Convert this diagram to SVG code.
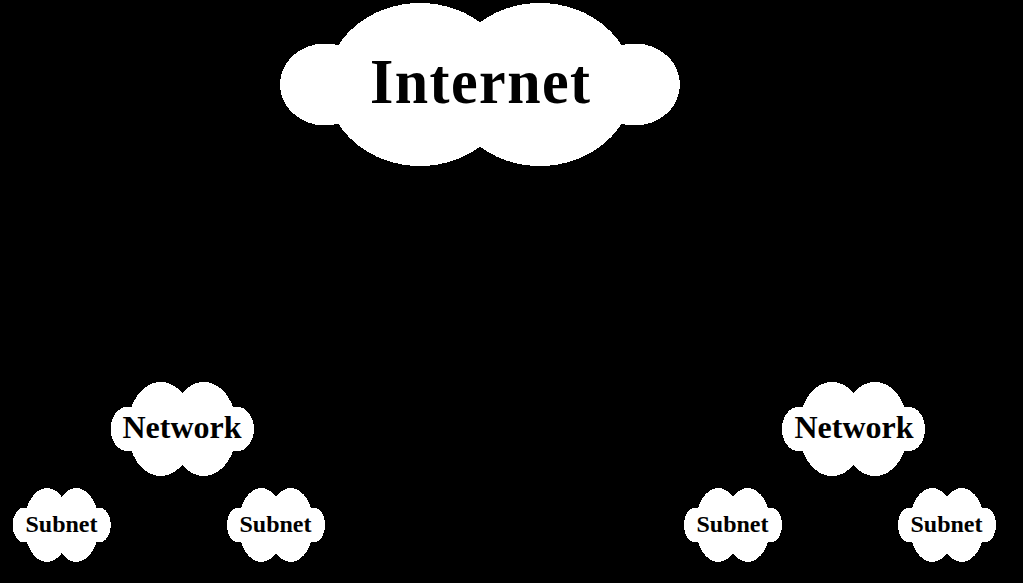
<svg xmlns="http://www.w3.org/2000/svg" width="1023" height="583" viewBox="0 0 1023 583">
<style>
.c{fill:#fff;shape-rendering:crispEdges}
text{font-family:"Liberation Serif","Times New Roman",serif;font-weight:bold;fill:#000;text-anchor:middle}
.i{font-size:60px}.n{font-size:32px}.s{font-size:24px}
</style>
<defs>
<g id="cloud" class="c">
<ellipse cx="-60" cy="0" rx="93" ry="81.5"/>
<ellipse cx="60" cy="0" rx="93" ry="81.5"/>
<ellipse cx="-155" cy="0" rx="45" ry="41"/>
<ellipse cx="155" cy="0" rx="45" ry="41"/>
</g>
<g id="cloud-small" class="c">
<ellipse cx="-60" cy="0" rx="93" ry="81.5"/>
<ellipse cx="60" cy="0" rx="93" ry="81.5"/>
<ellipse cx="-153" cy="0" rx="47" ry="38.5"/>
<ellipse cx="153" cy="0" rx="47" ry="38.5"/>
</g>
</defs>
<rect width="1023" height="583" fill="#000"/>
<g id="connectors"/>
<g id="internet"><use href="#cloud" transform="translate(480 84.5)"/><text class="i" transform="translate(480 103) scale(1 1.07)" textLength="220" lengthAdjust="spacing">Internet</text></g>
<g id="network-left"><use href="#cloud-small" transform="translate(182.3 429) scale(.358 .577)"/><text class="n" x="182" y="438">Network</text></g>
<g id="network-right"><use href="#cloud-small" transform="translate(853.5 429) scale(.358 .577)"/><text class="n" x="854" y="438">Network</text></g>
<g id="subnet-1"><use href="#cloud-small" transform="translate(61.7 525) scale(.245 .454)"/><text class="s" x="61.5" y="532">Subnet</text></g>
<g id="subnet-2"><use href="#cloud-small" transform="translate(276 525) scale(.245 .454)"/><text class="s" x="275.5" y="532">Subnet</text></g>
<g id="subnet-3"><use href="#cloud-small" transform="translate(733 525) scale(.245 .454)"/><text class="s" x="732.5" y="532">Subnet</text></g>
<g id="subnet-4"><use href="#cloud-small" transform="translate(947 525) scale(.245 .454)"/><text class="s" x="946.5" y="532">Subnet</text></g>
</svg>
